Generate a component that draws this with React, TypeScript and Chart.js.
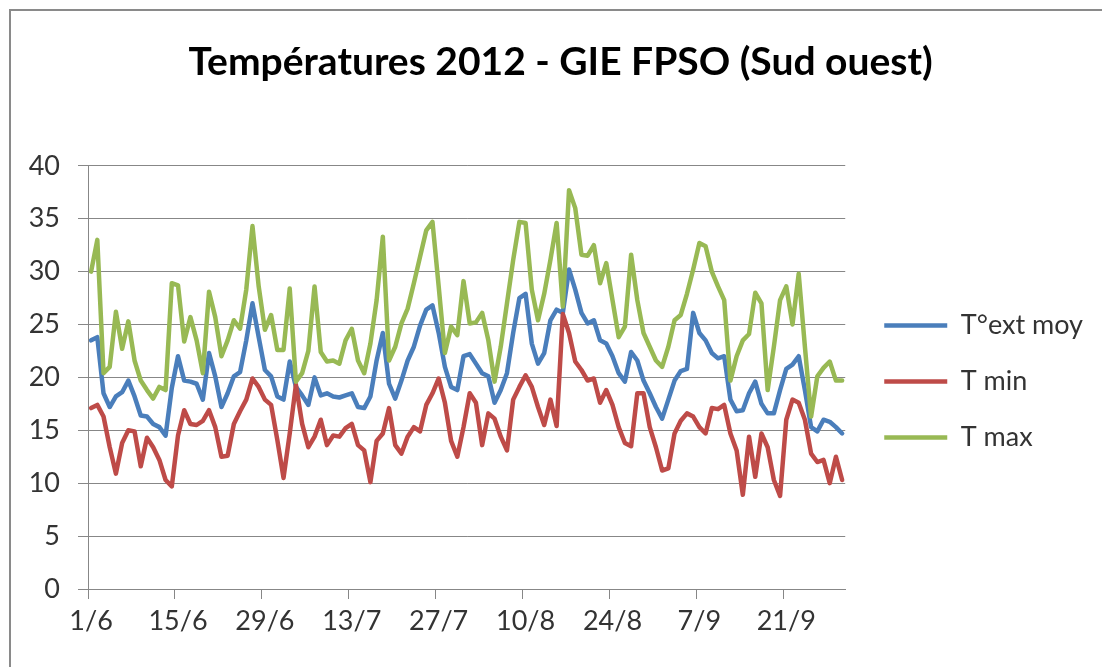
import React, { useEffect, useRef } from "react";
import { Chart, registerables } from "chart.js";

Chart.register(...registerables);

const MONTHS: [number, number][] = [[6, 30], [7, 31], [8, 31], [9, 30]];
const DAYS: string[] = [];
for (const [m, n] of MONTHS) for (let d = 1; d <= n; d++) DAYS.push(`${d}/${m}`);

const TICK_LABELS = ["1/6", "15/6", "29/6", "13/7", "27/7", "10/8", "24/8", "7/9", "21/9"];

const T_MOY = [
  23.5, 23.8, 18.5, 17.2, 18.2, 18.6, 19.7, 18.2, 16.4, 16.3, 15.6, 15.3, 14.5, 19.0, 22.0, 19.7, 19.6, 19.4, 17.9, 22.3,
  20.1, 17.2, 18.5, 20.1, 20.5, 23.5, 27.0, 23.8, 20.7, 20.1, 18.2, 17.9, 21.5, 19.1, 18.3, 17.4, 20.0, 18.3, 18.5, 18.2,
  18.1, 18.3, 18.5, 17.2, 17.1, 18.2, 21.6, 24.2, 19.4, 18.0, 19.7, 21.6, 22.9, 24.9, 26.4, 26.8, 24.2, 21.0, 19.1, 18.8,
  22.0, 22.2, 21.3, 20.4, 20.1, 17.6, 18.8, 20.4, 24.2, 27.5, 27.9, 23.2, 21.3, 22.3, 25.4, 26.4, 26.1, 30.2, 28.3, 26.1,
  25.1, 25.4, 23.5, 23.2, 22.0, 20.4, 19.6, 22.4, 21.6, 19.7, 18.5, 17.2, 16.1, 17.9, 19.7, 20.6, 20.8, 26.1, 24.2, 23.5,
  22.3, 21.8, 22.0, 17.9, 16.8, 16.9, 18.5, 19.6, 17.5, 16.6, 16.6, 18.8, 20.8, 21.2, 22.0, 18.8, 15.3, 14.9, 16.0, 15.8,
  15.3, 14.7,
];

const T_MIN = [
  17.1, 17.4, 16.3, 13.4, 10.9, 13.8, 15.0, 14.9, 11.6, 14.3, 13.4, 12.2, 10.3, 9.7, 14.5, 16.9, 15.6, 15.5, 15.9, 16.9,
  15.3, 12.5, 12.6, 15.6, 16.8, 17.9, 19.9, 19.1, 17.9, 17.4, 14.1, 10.5, 14.7, 19.3, 15.6, 13.4, 14.4, 16.0, 13.6, 14.5,
  14.4, 15.2, 15.6, 13.6, 13.1, 10.1, 14.0, 14.7, 17.1, 13.6, 12.8, 14.4, 15.3, 14.9, 17.4, 18.5, 19.9, 17.6, 14.0, 12.5,
  15.3, 18.5, 17.6, 13.6, 16.6, 16.1, 14.4, 13.1, 17.9, 19.1, 20.2, 19.1, 17.2, 15.5, 17.9, 15.4, 26.0, 24.2, 21.5, 20.7,
  19.7, 19.9, 17.6, 18.8, 17.4, 15.3, 13.8, 13.5, 18.5, 18.5, 15.3, 13.4, 11.2, 11.4, 14.7, 15.9, 16.6, 16.3, 15.3, 14.7,
  17.1, 17.0, 17.4, 14.7, 13.1, 8.9, 14.4, 10.6, 14.7, 13.4, 10.3, 8.8, 16.0, 17.9, 17.6, 16.0, 12.8, 12.0, 12.2, 10.0,
  12.5, 10.3,
];

const T_MAX = [
  30.0, 33.0, 20.4, 21.0, 26.2, 22.7, 25.3, 21.6, 19.7, 18.8, 18.0, 19.1, 18.8, 28.9, 28.7, 23.4, 25.7, 23.5, 20.4, 28.1,
  25.7, 22.0, 23.5, 25.4, 24.6, 28.3, 34.3, 28.6, 24.5, 25.9, 22.6, 22.6, 28.4, 19.6, 20.4, 22.5, 28.6, 22.4, 21.5, 21.6,
  21.3, 23.5, 24.6, 21.6, 20.4, 23.2, 27.3, 33.3, 21.6, 22.9, 25.1, 26.5, 28.9, 31.4, 33.9, 34.7, 28.6, 22.3, 24.8, 24.0,
  29.1, 25.1, 25.2, 26.1, 23.5, 19.6, 22.9, 27.0, 31.1, 34.7, 34.6, 28.3, 25.4, 27.9, 31.1, 34.6, 26.7, 37.7, 36.0, 31.6,
  31.5, 32.5, 28.9, 30.8, 27.3, 23.8, 24.8, 31.6, 27.3, 24.2, 22.9, 21.6, 21.0, 22.9, 25.4, 25.9, 27.9, 30.2, 32.7, 32.4,
  30.0, 28.6, 27.3, 19.7, 22.0, 23.5, 24.1, 28.0, 27.0, 18.8, 22.9, 27.3, 28.6, 25.0, 29.8, 22.9, 16.3, 20.1, 20.9, 21.5,
  19.7, 19.7,
];

const SERIES_NAMES = ["T°ext moy", "T min", "T max"];
const SERIES_COLORS = ["#4A7EBB", "#BE4B48", "#98B954"];
const TITLE = "Températures 2012 - GIE FPSO (Sud ouest)";

const GRID = "#878787";
const TEXT = "#333333";
const FONT = "Lato, 'Open Sans', sans-serif";
const LEGEND_DX = 10;
const LEGEND_DY = 4;
const TITLE_DX = 19;

const shiftPlugin = {
  id: "shiftBoxes",
  afterLayout(chart: any) {
    if (chart.legend) {
      chart.legend.left += LEGEND_DX;
      chart.legend.right += LEGEND_DX;
      chart.legend.top += LEGEND_DY;
      chart.legend.bottom += LEGEND_DY;
    }
    if (chart.titleBlock) {
      chart.titleBlock.left += TITLE_DX;
      chart.titleBlock.right += TITLE_DX;
    }
  },
};

export default function App() {
  const ref = useRef<HTMLCanvasElement>(null);
  useEffect(() => {
    if (!ref.current) return;
    const values = [T_MOY, T_MIN, T_MAX];
    const orders = [2, 1, 0];
    const chart = new Chart(ref.current, {
      type: "line",
      data: {
        labels: DAYS,
        datasets: values.map((v, i) => ({
          label: SERIES_NAMES[i],
          data: v,
          borderColor: SERIES_COLORS[i],
          backgroundColor: SERIES_COLORS[i],
          borderWidth: 4.5,
          pointRadius: 0,
          tension: 0,
          borderJoinStyle: "round" as const,
          borderCapStyle: "round" as const,
          order: orders[i],
        })),
      },
      options: {
        animation: false,
        responsive: false,
        devicePixelRatio: 1,
        layout: { padding: { left: 0, right: 19, top: 0, bottom: 0 } },
        plugins: {
          tooltip: { enabled: false },
          title: {
            display: true,
            text: TITLE,
            color: "#000000",
            font: { family: FONT, size: 39, weight: "bold", lineHeight: 1.2 },
            padding: { top: 39, bottom: 80 },
          },
          legend: {
            display: true,
            position: "right",
            align: "center",
            fullSize: false,
            labels: {
              usePointStyle: true,
              pointStyle: "line",
              pointStyleWidth: 63,
              padding: 29,
              color: TEXT,
              font: { family: FONT, size: 27 },
              sort: (a: any, b: any) => a.datasetIndex - b.datasetIndex,
            },
          },
        },
        scales: {
          x: {
            type: "category",
            offset: true,
            grid: {
              display: true,
              offset: true,
              drawOnChartArea: false,
              drawTicks: true,
              tickLength: 10,
              tickWidth: 1,
              tickColor: (ctx: any) =>
                TICK_LABELS.includes(DAYS[ctx.index]) ? GRID : "rgba(0,0,0,0)",
            },
            border: { display: true, color: GRID, width: 1 },
            ticks: {
              autoSkip: false,
              maxRotation: 0,
              minRotation: 0,
              padding: 6,
              color: TEXT,
              font: { family: FONT, size: 27 },
              callback: (_v: any, index: number) =>
                TICK_LABELS.includes(DAYS[index]) ? DAYS[index] : "",
            },
            afterFit: (s: any) => {
              s.height = 78;
            },
          },
          y: {
            min: 0,
            max: 40,
            grid: {
              color: GRID,
              lineWidth: 1,
              drawTicks: true,
              tickLength: 10,
              tickColor: GRID,
            },
            border: { display: true, color: GRID, width: 1 },
            ticks: {
              stepSize: 5,
              padding: 18,
              color: TEXT,
              font: { family: FONT, size: 27 },
            },
            afterFit: (s: any) => {
              s.width = 88;
            },
          },
        },
      },
      plugins: [shiftPlugin],
    });
    return () => chart.destroy();
  }, []);

  return (
    <div
      style={{
        position: "absolute",
        left: 0,
        top: 0,
        width: 1102,
        height: 667,
        overflow: "hidden",
        background: "#ffffff",
      }}
    >
      <div
        style={{
          position: "absolute",
          left: 9,
          top: 9,
          width: 1200,
          height: 800,
          border: "2px solid #8a8a8a",
          boxSizing: "border-box",
        }}
      />
      <canvas
        ref={ref}
        width={1102}
        height={667}
        style={{ position: "absolute", left: 0, top: 0, width: 1102, height: 667 }}
      />
    </div>
  );
}
